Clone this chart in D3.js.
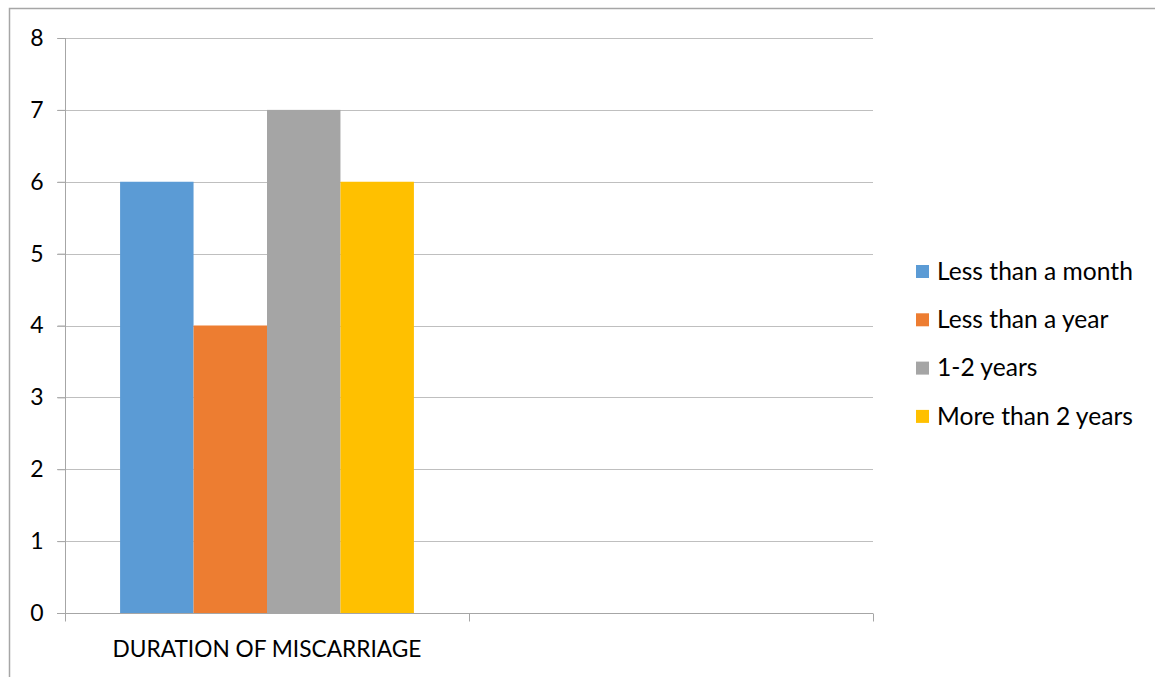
<!DOCTYPE html>
<html>
<head>
<meta charset="utf-8">
<script src="https://cdn.jsdelivr.net/npm/d3@7"></script>
<style>
  html, body { margin: 0; padding: 0; background: #fff; }
  svg { display: block; font-family: Lato, "Open Sans", sans-serif; }
</style>
</head>
<body>
<svg id="chart" width="1155" height="677"></svg>
<script>
// Chart data
const categories = ["DURATION OF MISCARRIAGE", ""];
const seriesNames = ["Less than a month", "Less than a year", "1-2 years", "More than 2 years"];
const seriesValues = [6, 4, 7, 6];           // one value per series, first category
const seriesColors = ["#5B9BD5", "#ED7D31", "#A5A5A5", "#FFC000"];
const yTicks = [0, 1, 2, 3, 4, 5, 6, 7, 8];

const svg = d3.select("#chart");
const W = 1155, H = 677;

// outer chart frame
svg.append("rect")
  .attr("x", 9.5).attr("y", 8.5)
  .attr("width", W).attr("height", H)
  .attr("fill", "#fff").attr("stroke", "#a6a6a6").attr("stroke-width", 1.5);

const plot = { left: 65, right: 873, top: 38, bottom: 613 };

const x = d3.scaleBand().domain(categories).range([plot.left, plot.right]);
const y = d3.scaleLinear().domain([0, 8]).range([plot.bottom, plot.top]);

// gridlines
svg.append("g")
  .selectAll("line").data(yTicks.filter(d => d > 0)).join("line")
  .attr("x1", plot.left - 8).attr("x2", plot.right)
  .attr("y1", d => Math.round(y(d)) + 0.5).attr("y2", d => Math.round(y(d)) + 0.5)
  .attr("stroke", "#bfbfbf").attr("stroke-width", 1);

// bars: four series in the first category, gap width 150%
const band = x.bandwidth();
const barW = band / (seriesNames.length + 1.5);
const groupStart = x(categories[0]) + (band - barW * seriesNames.length) / 2;
const xs = d3.scaleBand().domain(seriesNames)
  .range([groupStart, groupStart + barW * seriesNames.length]);

svg.append("g")
  .selectAll("rect").data(seriesNames.map((n, i) => ({ name: n, value: seriesValues[i], color: seriesColors[i] })))
  .join("rect")
  .attr("x", d => xs(d.name))
  .attr("width", xs.bandwidth())
  .attr("y", d => y(d.value))
  .attr("height", d => y(0) - y(d.value))
  .attr("fill", d => d.color);

// y axis
const yAxis = d3.axisLeft(y).tickValues(yTicks).tickSize(8).tickPadding(14).tickFormat(d3.format("d"));
const gy = svg.append("g").attr("transform", `translate(${plot.left + 0.5},0)`).call(yAxis);
gy.select(".domain").attr("stroke", "#a6a6a6").attr("d", `M0,${plot.top}V${plot.bottom}`);
gy.selectAll(".tick line").attr("stroke", "#a6a6a6");
gy.selectAll(".tick text").attr("font-size", 23).attr("fill", "#000").attr("font-family", "Lato, sans-serif");

// x axis: tick marks at category boundaries
const gx = svg.append("g").attr("transform", `translate(0,${Math.round(plot.bottom) + 0.5})`);
gx.append("line").attr("x1", plot.left - 8).attr("x2", plot.right)
  .attr("stroke", "#a6a6a6");
const bounds = categories.map(c => x(c)).concat([plot.right]);
gx.selectAll("line.b").data(bounds).join("line").attr("class", "b")
  .attr("x1", d => Math.round(d) + 0.5).attr("x2", d => Math.round(d) + 0.5)
  .attr("y1", 0).attr("y2", 8).attr("stroke", "#a6a6a6");
gx.selectAll("text").data(categories).join("text")
  .attr("x", d => x(d) + band / 2).attr("y", 43)
  .attr("text-anchor", "middle").attr("font-size", 22.7).attr("fill", "#000")
  .text(d => d);

// legend
const legend = svg.append("g").attr("transform", "translate(916,271)");
const items = legend.selectAll("g").data(seriesNames).join("g")
  .attr("transform", (d, i) => `translate(0,${i * 48.3})`);
items.append("rect").attr("x", 0).attr("y", -6).attr("width", 13).attr("height", 13)
  .attr("fill", (d, i) => seriesColors[i]);
items.append("text").attr("x", 21).attr("y", 0).attr("dy", "0.35em")
  .attr("font-size", 24.6).attr("fill", "#000").text(d => d);
</script>
</body>
</html>
